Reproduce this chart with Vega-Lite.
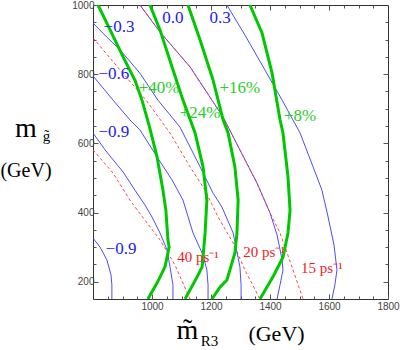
{
  "$schema": "https://vega.github.io/schema/vega-lite/v6.json",
  "width": 295,
  "height": 294,
  "autosize": {"type": "none"},
  "padding": {"left": 93, "top": 5, "right": 19, "bottom": 51},
  "title": {"text": "m", "subtitle": "(GeV)", "orient": "top", "anchor": "start", "frame": "group", "align": "center", "dx": -67, "dy": 181, "offset": 0, "font": "Liberation Serif", "fontSize": 28, "fontWeight": "normal", "color": "#000", "subtitleFont": "Liberation Serif", "subtitleFontSize": 20, "subtitleColor": "#000", "subtitlePadding": 18},
  "config": {
    "view": {"stroke": "#333", "strokeWidth": 1},
    "axis": {"domain": false, "grid": false, "labelFont": "Liberation Sans", "labelFontSize": 10, "labelColor": "#444", "tickColor": "#555", "tickWidth": 1, "titleFont": "Liberation Serif", "titleFontWeight": "normal", "titleColor": "#000", "labelOverlap": false, "labelFlush": false}
  },
  "datasets": {
    "blue": [
      {"s":"b1","i":0,"x":800,"y":948},{"s":"b1","i":1,"x":847,"y":907},{"s":"b1","i":2,"x":892,"y":870},{"s":"b1","i":3,"x":959,"y":803},{"s":"b1","i":4,"x":1020,"y":725},{"s":"b1","i":5,"x":1095,"y":647},{"s":"b1","i":6,"x":1163,"y":532},{"s":"b1","i":7,"x":1207,"y":456},{"s":"b1","i":8,"x":1237,"y":416},{"s":"b1","i":9,"x":1275,"y":341},{"s":"b1","i":10,"x":1298,"y":243},{"s":"b1","i":11,"x":1302,"y":191},{"s":"b1","i":12,"x":1302,"y":150},
      {"s":"b2","i":0,"x":800,"y":795},{"s":"b2","i":1,"x":868,"y":725},{"s":"b2","i":2,"x":925,"y":668},{"s":"b2","i":3,"x":959,"y":639},{"s":"b2","i":4,"x":1017,"y":561},{"s":"b2","i":5,"x":1068,"y":494},{"s":"b2","i":6,"x":1105,"y":436},{"s":"b2","i":7,"x":1139,"y":341},{"s":"b2","i":8,"x":1173,"y":277},{"s":"b2","i":9,"x":1186,"y":234},{"s":"b2","i":10,"x":1190,"y":191},{"s":"b2","i":11,"x":1190,"y":150},
      {"s":"b3","i":0,"x":800,"y":630},{"s":"b3","i":1,"x":841,"y":581},{"s":"b3","i":2,"x":902,"y":517},{"s":"b3","i":3,"x":942,"y":465},{"s":"b3","i":4,"x":976,"y":422},{"s":"b3","i":5,"x":1000,"y":387},{"s":"b3","i":6,"x":1027,"y":341},{"s":"b3","i":7,"x":1051,"y":292},{"s":"b3","i":8,"x":1061,"y":243},{"s":"b3","i":9,"x":1071,"y":191},{"s":"b3","i":10,"x":1071,"y":150},
      {"s":"b4","i":0,"x":800,"y":326},{"s":"b4","i":1,"x":824,"y":300},{"s":"b4","i":2,"x":847,"y":263},{"s":"b4","i":3,"x":861,"y":220},{"s":"b4","i":4,"x":864,"y":191},{"s":"b4","i":5,"x":864,"y":150},
      {"s":"b5","i":0,"x":959,"y":1000},{"s":"b5","i":1,"x":1027,"y":922},{"s":"b5","i":2,"x":1129,"y":821},{"s":"b5","i":3,"x":1241,"y":676},{"s":"b5","i":4,"x":1298,"y":581},{"s":"b5","i":5,"x":1356,"y":485},{"s":"b5","i":6,"x":1400,"y":399},{"s":"b5","i":7,"x":1424,"y":335},{"s":"b5","i":8,"x":1441,"y":263},{"s":"b5","i":9,"x":1444,"y":234},{"s":"b5","i":10,"x":1434,"y":191},{"s":"b5","i":11,"x":1424,"y":150},
      {"s":"b6","i":0,"x":1254,"y":1000},{"s":"b6","i":1,"x":1315,"y":913},{"s":"b6","i":2,"x":1383,"y":812},{"s":"b6","i":3,"x":1441,"y":725},{"s":"b6","i":4,"x":1502,"y":630},{"s":"b6","i":5,"x":1546,"y":532},{"s":"b6","i":6,"x":1576,"y":465},{"s":"b6","i":7,"x":1597,"y":387},{"s":"b6","i":8,"x":1617,"y":306},{"s":"b6","i":9,"x":1627,"y":234},{"s":"b6","i":10,"x":1620,"y":191},{"s":"b6","i":11,"x":1610,"y":150}
    ],
    "red": [
      {"s":"r1","i":0,"x":800,"y":581},{"s":"r1","i":1,"x":868,"y":514},{"s":"r1","i":2,"x":925,"y":436},{"s":"r1","i":3,"x":976,"y":378},{"s":"r1","i":4,"x":1027,"y":321},{"s":"r1","i":5,"x":1078,"y":248},{"s":"r1","i":6,"x":1129,"y":150},
      {"s":"r2","i":0,"x":800,"y":905},{"s":"r2","i":1,"x":892,"y":812},{"s":"r2","i":2,"x":980,"y":725},{"s":"r2","i":3,"x":1061,"y":630},{"s":"r2","i":4,"x":1129,"y":532},{"s":"r2","i":5,"x":1180,"y":465},{"s":"r2","i":6,"x":1224,"y":387},{"s":"r2","i":7,"x":1275,"y":312},{"s":"r2","i":8,"x":1315,"y":234},{"s":"r2","i":9,"x":1366,"y":150},
      {"s":"r3","i":0,"x":959,"y":1000},{"s":"r3","i":1,"x":1027,"y":922},{"s":"r3","i":2,"x":1129,"y":821},{"s":"r3","i":3,"x":1241,"y":676},{"s":"r3","i":4,"x":1298,"y":581},{"s":"r3","i":5,"x":1356,"y":485},{"s":"r3","i":6,"x":1400,"y":399},{"s":"r3","i":7,"x":1434,"y":341},{"s":"r3","i":8,"x":1458,"y":283},{"s":"r3","i":9,"x":1478,"y":234},{"s":"r3","i":10,"x":1512,"y":150}
    ],
    "green": [
      {"s":"g1","i":0,"x":817,"y":1000},{"s":"g1","i":1,"x":858,"y":928},{"s":"g1","i":2,"x":902,"y":850},{"s":"g1","i":3,"x":942,"y":783},{"s":"g1","i":4,"x":966,"y":725},{"s":"g1","i":5,"x":990,"y":653},{"s":"g1","i":6,"x":1017,"y":561},{"s":"g1","i":7,"x":1037,"y":465},{"s":"g1","i":8,"x":1047,"y":407},{"s":"g1","i":9,"x":1054,"y":321},{"s":"g1","i":10,"x":1058,"y":300},{"s":"g1","i":11,"x":1051,"y":271},{"s":"g1","i":12,"x":1044,"y":243},{"s":"g1","i":13,"x":1017,"y":196},{"s":"g1","i":14,"x":986,"y":150},
      {"s":"g2","i":0,"x":993,"y":1000},{"s":"g2","i":1,"x":1027,"y":928},{"s":"g2","i":2,"x":1068,"y":821},{"s":"g2","i":3,"x":1105,"y":725},{"s":"g2","i":4,"x":1146,"y":630},{"s":"g2","i":5,"x":1173,"y":532},{"s":"g2","i":6,"x":1186,"y":436},{"s":"g2","i":7,"x":1180,"y":341},{"s":"g2","i":8,"x":1170,"y":243},{"s":"g2","i":9,"x":1153,"y":214},{"s":"g2","i":10,"x":1112,"y":150},
      {"s":"g3","i":0,"x":1122,"y":1000},{"s":"g3","i":1,"x":1163,"y":899},{"s":"g3","i":2,"x":1207,"y":783},{"s":"g3","i":3,"x":1241,"y":668},{"s":"g3","i":4,"x":1258,"y":630},{"s":"g3","i":5,"x":1281,"y":532},{"s":"g3","i":6,"x":1292,"y":436},{"s":"g3","i":7,"x":1288,"y":341},{"s":"g3","i":8,"x":1281,"y":283},{"s":"g3","i":9,"x":1254,"y":205},{"s":"g3","i":10,"x":1231,"y":185},{"s":"g3","i":11,"x":1203,"y":150},
      {"s":"g4","i":0,"x":1332,"y":1000},{"s":"g4","i":1,"x":1373,"y":919},{"s":"g4","i":2,"x":1407,"y":803},{"s":"g4","i":3,"x":1434,"y":668},{"s":"g4","i":4,"x":1444,"y":630},{"s":"g4","i":5,"x":1461,"y":503},{"s":"g4","i":6,"x":1468,"y":407},{"s":"g4","i":7,"x":1461,"y":341},{"s":"g4","i":8,"x":1444,"y":271},{"s":"g4","i":9,"x":1410,"y":214},{"s":"g4","i":10,"x":1366,"y":150}
    ],
    "labels": [
      {"text":"−0.3","t":"b","x":888,"y":936},
      {"text":"0.0","t":"b","x":1071,"y":962},
      {"text":"0.3","t":"b","x":1231,"y":962},
      {"text":"−0.6","t":"b","x":871,"y":800},
      {"text":"−0.9","t":"b","x":871,"y":633},
      {"text":"−0.9","t":"b","x":895,"y":295},
      {"text":"+40%","t":"g","x":1024,"y":760},
      {"text":"+24%","t":"g","x":1163,"y":688},
      {"text":"+16%","t":"g","x":1298,"y":760},
      {"text":"+8%","t":"g","x":1502,"y":679}
    ],
    "redlabels": [
      {"text":"40 ps⁻¹","x":1156,"y":271},
      {"text":"20 ps⁻¹","x":1380,"y":286},
      {"text":"15 ps⁻¹","x":1576,"y":240}
    ]
  },
  "layer": [
    {
      "data": {"name": "blue"},
      "mark": {"type": "line", "color": "#3838ff", "strokeWidth": 0.9, "clip": true},
      "encoding": {
        "x": {"field": "x", "type": "quantitative", "scale": {"domain": [800, 1800], "nice": false, "zero": false},
          "axis": {"orient": "bottom", "values": [850,900,950,1000,1050,1100,1150,1200,1250,1300,1350,1400,1450,1500,1550,1600,1650,1700,1750,1800],
            "format": "d", "labelExpr": "datum.value % 200 === 0 ? datum.label : ''",
            "tickSize": {"condition": {"test": "datum.value % 200 === 0", "value": -5}, "value": -3},
            "labelPadding": 7, "labelBaseline": "top",
            "title": "m̃", "titleFontSize": 28, "titleAngle": 0, "titleX": 94, "titleY": 39, "titleAlign": "center", "titleBaseline": "alphabetic"}},
        "y": {"field": "y", "type": "quantitative", "scale": {"domain": [150, 1000], "nice": false, "zero": false},
          "axis": {"orient": "left", "values": [200,250,300,350,400,450,500,550,600,650,700,750,800,850,900,950,1000],
            "format": "d", "labelExpr": "datum.value % 200 === 0 ? datum.label : ''",
            "tickSize": {"condition": {"test": "datum.value % 200 === 0", "value": -5}, "value": -3},
            "labelPadding": 4,
            "title": "g̃", "titleFontSize": 15, "titleAngle": 0, "titleX": -47, "titleY": 135, "titleAlign": "center", "titleBaseline": "alphabetic"}},
        "detail": {"field": "s"},
        "order": {"field": "i"}
      }
    },
    {
      "data": {"name": "red"},
      "mark": {"type": "line", "color": "#ff3030", "strokeWidth": 0.9, "strokeDash": [3, 2.5], "clip": true},
      "encoding": {
        "x": {"field": "x", "type": "quantitative", "scale": {"domain": [800, 1800], "nice": false, "zero": false},
          "axis": {"orient": "top", "values": [850,900,950,1000,1050,1100,1150,1200,1250,1300,1350,1400,1450,1500,1550,1600,1650,1700,1750],
            "labels": false,
            "tickSize": {"condition": {"test": "datum.value % 200 === 0", "value": -5}, "value": -3},
            "title": "R3", "titleFontSize": 15, "titleAngle": 0, "titleX": 116, "titleY": 340, "titleAlign": "center", "titleBaseline": "alphabetic"}},
        "y": {"field": "y", "type": "quantitative", "scale": {"domain": [150, 1000], "nice": false, "zero": false},
          "axis": {"orient": "right", "values": [200,250,300,350,400,450,500,550,600,650,700,750,800,850,900,950],
            "labels": false,
            "tickSize": {"condition": {"test": "datum.value % 200 === 0", "value": -5}, "value": -3},
            "title": "(GeV)", "titleFontSize": 22, "titleAngle": 0, "titleX": -112, "titleY": 335, "titleAlign": "center", "titleBaseline": "alphabetic"}},
        "detail": {"field": "s"},
        "order": {"field": "i"}
      }
    },
    {
      "data": {"name": "green"},
      "mark": {"type": "line", "color": "#00c800", "strokeWidth": 3, "clip": true},
      "encoding": {
        "x": {"field": "x", "type": "quantitative", "scale": {"domain": [800, 1800], "nice": false, "zero": false}, "axis": null},
        "y": {"field": "y", "type": "quantitative", "scale": {"domain": [150, 1000], "nice": false, "zero": false}, "axis": null},
        "detail": {"field": "s"},
        "order": {"field": "i"}
      }
    },
    {
      "data": {"name": "labels"},
      "mark": {"type": "text", "font": "Liberation Serif", "fontSize": 17, "align": "center", "baseline": "middle"},
      "encoding": {
        "x": {"field": "x", "type": "quantitative", "axis": null},
        "y": {"field": "y", "type": "quantitative", "axis": null},
        "text": {"field": "text"},
        "color": {"field": "t", "type": "nominal", "scale": {"domain": ["b", "g"], "range": ["#2020f4", "#2ccc2c"]}, "legend": null}
      }
    },
    {
      "data": {"name": "redlabels"},
      "mark": {"type": "text", "font": "Liberation Serif", "fontSize": 15, "align": "center", "baseline": "middle", "color": "#ee1c1c"},
      "encoding": {
        "x": {"field": "x", "type": "quantitative", "axis": null},
        "y": {"field": "y", "type": "quantitative", "axis": null},
        "text": {"field": "text"}
      }
    }
  ],
  "resolve": {"axis": {"x": "independent", "y": "independent"}}
}
